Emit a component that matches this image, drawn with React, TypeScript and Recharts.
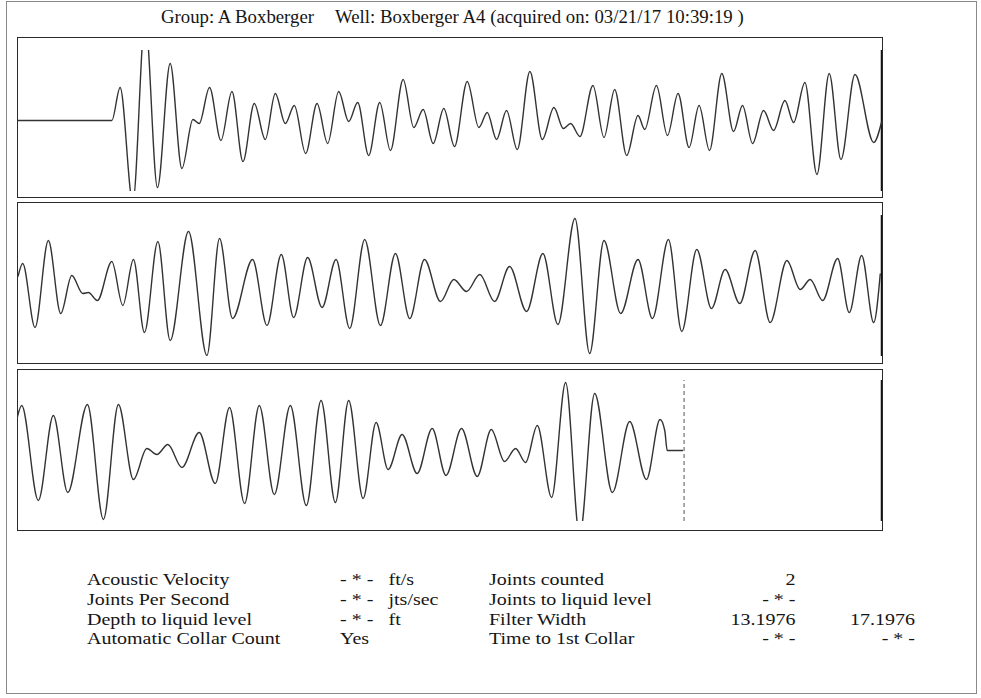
import React from "react";
import { LineChart, Line, XAxis, YAxis, ReferenceLine } from "recharts";

// ---- Title ----
const TITLE_GROUP = "Group: A Boxberger";
const TITLE_WELL = "Well: Boxberger A4 (acquired on: 03/21/17 10:39:19 )";

// ---- Trace 1 (time in ms from panel start, amplitude) ----
const P1_T = [0, 94.7, 103, 115.7, 128, 140.3, 153, 164.7, 175.7, 182, 192.3, 203.7, 214.7, 225.7, 237, 248, 258, 268, 277, 288.3, 299.7, 310.3, 321.3, 331.3, 340.3, 351.3, 362.3, 373, 385.7, 396.3, 405.7, 415.7, 426.3, 437, 449.7, 461.3, 469.7, 479, 489, 499.7, 512.3, 524.7, 536.3, 545.7, 553, 562.3, 575.3, 586.3, 597, 609, 620.3, 627, 638.7, 649.7, 660.3, 671.3, 681.3, 691.7, 704, 715.7, 724.7, 734.7, 745.7, 755.7, 767, 775.7, 787, 799, 811.3, 823, 837, 855.7, 863.7];
const P1_A = [0, 0, 33, -82, 102, -67, 57, -48, 1, -3, 33, -20, 29, -41, 17, -19, 27, -3, 15, -33, 17, -23, 29, -1, 18, -35, 18, -30, 41, -7, 11, -23, 12, -26, 39, -7, 8, -19, 10, -29, 49, -19, 13, -8, -3, -16, 35, -17, 31, -35, 5, -9, 35, -15, 27, -27, 15, -30, 47, -11, 15, -23, 10, -10, 20, -2, 38, -54, 47, -39, 46, -22, -1];

// ---- Trace 2 ----
const P2_T = [1, 5.7, 18, 31.3, 43.7, 54.7, 65.7, 71.3, 80.3, 94.7, 105.7, 116.3, 127.3, 140.7, 153, 171.3, 189.7, 202.3, 215.3, 235.3, 249.7, 264, 276.3, 290.3, 304.7, 318.7, 332.3, 347.3, 363, 378, 392.3, 407, 423, 436.3, 449, 462.3, 477, 492, 509, 525.3, 540.3, 557.3, 572, 586.3, 603, 620.3, 634.7, 650.7, 664, 679, 693.7, 707.3, 722, 737.3, 752.3, 769, 782.3, 792.3, 804.7, 819.7, 831.3, 843.7, 855.7, 862.3];
const P2_A = [9, 22, -42, 45, -28, 10, -8, -7, -15, 24, -20, 26, -47, 44, -55, 54, -70, 47, -33, 26, -40, 31, -32, 28, -22, 26, -43, 46, -40, 32, -33, 26, -16, 6, -6, 11, -16, 19, -26, 32, -39, 67, -68, 45, -28, 26, -33, 46, -46, 36, -23, 16, -18, 35, -37, 25, -4, 6, -15, 27, -27, 30, -37, 12];

// ---- Trace 3 ----
const P3_T = [0, 4.7, 21.3, 36.3, 50.7, 70.3, 86.3, 101.3, 116.3, 129.7, 139.7, 150.7, 164.7, 182, 198, 212.3, 227.3, 242, 257, 273, 289, 303.7, 318, 331.3, 345.7, 358.7, 370.7, 384.7, 399.7, 414.7, 428.5, 444, 459.7, 473.7, 487, 498, 508, 519.7, 534, 548, 562, 577, 594.7, 612, 628.7, 642.3, 647, 649.5, 665.3];
const P3_A = [32, 45, -50, 35, -42, 46, -69, 46, -29, 2, -4, 6, -17, 18, -33, 43, -53, 45, -44, 45, -55, 50, -52, 50, -48, 28, -19, 16, -23, 22, -25, 22, -26, 21, -11, 2, -12, 25, -47, 68, -85, 57, -42, 29, -29, 31, 20, 0, 0];
const P3_END = 666.3;

const SPAN = 864;
const AMP = 70.5;

const LABELS_LEFT = ["Acoustic Velocity", "Joints Per Second", "Depth to liquid level", "Automatic Collar Count"];
const VALUES_LEFT = ["- * -", "- * -", "- * -", "Yes"];
const UNITS_LEFT = ["ft/s", "jts/sec", "ft", ""];
const LABELS_RIGHT = ["Joints counted", "Joints to liquid level", "Filter Width", "Time to 1st Collar"];
const VALUES_RIGHT_1 = ["2", "- * -", "13.1976", "- * -"];
const VALUES_RIGHT_2 = ["", "", "17.1976", "- * -"];

const FONT = '"Liberation Serif", "Times New Roman", serif';

function build(ts: number[], as: number[]) {
  return ts.map((t, i) => ({ t, a: as[i] }));
}

function Trace({ data, top, end }: { data: { t: number; a: number }[]; top: number; end?: number }) {
  return (
    <div style={{ position: "absolute", left: 17, top, width: 865, height: 141 }}>
      <LineChart width={865} height={141} data={data} margin={{ top: 0, right: 0, bottom: 0, left: 0 }}>
        <XAxis dataKey="t" type="number" domain={[0, SPAN]} hide allowDataOverflow />
        <YAxis type="number" domain={[-AMP, AMP]} hide allowDataOverflow />
        <ReferenceLine x={SPAN} stroke="#111" strokeWidth={2.5} />
        {end !== undefined && (
          <ReferenceLine x={end} stroke="#555" strokeWidth={1} strokeDasharray="4 3" />
        )}
        <Line
          type="monotone"
          dataKey="a"
          stroke="#333"
          strokeWidth={1.4}
          dot={false}
          isAnimationActive={false}
        />
      </LineChart>
    </div>
  );
}

const frameStyle = (top: number, height: number): React.CSSProperties => ({
  position: "absolute",
  left: 17,
  top,
  width: 864,
  height,
  border: "1.5px solid #2a2a2a",
});

const txt = (left: number, top: number, extra: React.CSSProperties = {}): React.CSSProperties => ({
  position: "absolute",
  left,
  top,
  fontFamily: FONT,
  fontSize: 20,
  lineHeight: "18px",
  color: "#151515",
  whiteSpace: "pre",
  ...extra,
});

const rowTxt = (left: number, top: number, extra: React.CSSProperties = {}): React.CSSProperties =>
  txt(left, top + 1.97, { transform: "scale(1, 0.875)", transformOrigin: "0 0", ...extra });

export default function App() {
  const rowTops = [569.3, 589, 608.7, 628.3];
  return (
    <div style={{ position: "absolute", left: 0, top: 0, width: 981, height: 698, background: "#fff", overflow: "hidden" }}>
      <div style={{ position: "absolute", left: 6, top: 1, width: 969, height: 691, border: "1.5px solid #8a8a8a" }} />
      <div style={txt(161, 7.5, { fontSize: 18.8 })}>{TITLE_GROUP}</div>
      <div style={txt(335, 7.5, { fontSize: 18.8 })}>{TITLE_WELL}</div>

      <div style={frameStyle(37, 159)} />
      <div style={frameStyle(202, 160)} />
      <div style={frameStyle(368.5, 160)} />

      <Trace data={build(P1_T, P1_A)} top={120.7 - AMP} />
      <Trace data={build(P2_T, P2_A)} top={285.5 - AMP} />
      <Trace data={build(P3_T, P3_A)} top={450.7 - AMP} end={P3_END} />

      {LABELS_LEFT.map((s, i) => (
        <div key={"l" + i} style={rowTxt(87, rowTops[i])}>{s}</div>
      ))}
      {VALUES_LEFT.map((s, i) => (
        <div key={"v" + i} style={rowTxt(340, rowTops[i])}>{s}</div>
      ))}
      {UNITS_LEFT.map((s, i) => (
        <div key={"u" + i} style={rowTxt(388.5, rowTops[i])}>{s}</div>
      ))}
      {LABELS_RIGHT.map((s, i) => (
        <div key={"r" + i} style={rowTxt(489, rowTops[i])}>{s}</div>
      ))}
      {VALUES_RIGHT_1.map((s, i) => (
        <div key={"a" + i} style={rowTxt(695.5, rowTops[i], { width: 100, textAlign: "right" })}>{s}</div>
      ))}
      {VALUES_RIGHT_2.map((s, i) => (
        <div key={"b" + i} style={rowTxt(815, rowTops[i], { width: 100, textAlign: "right" })}>{s}</div>
      ))}
    </div>
  );
}
